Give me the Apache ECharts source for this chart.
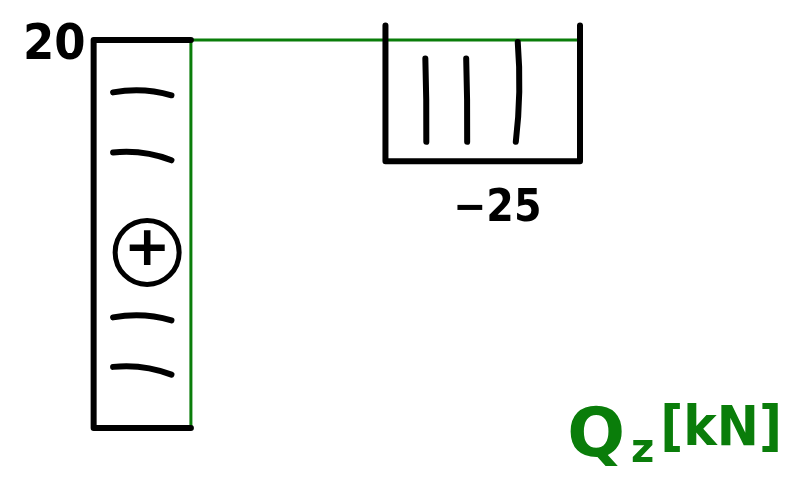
<!DOCTYPE html>
<html>
<head>
<meta charset="utf-8">
<script src="https://cdn.jsdelivr.net/npm/echarts@6/dist/echarts.min.js"></script>
<style>
  html, body { margin: 0; padding: 0; background: #fff; }
  #chart { width: 793px; height: 485px; }
</style>
</head>
<body>
<div id="chart"></div>
<script>
// frame axis (m): column 0..4, beam 0..4
const frameAxis = [[0, 0], [0, 4], [4, 4]];
// shear Q [kN] per member segment
const columnQ = 20;            // along the column, y 0..4
const beamSegment = [2, 4];    // loaded part of the beam
const beamQ = -25;
const kNtoM = 0.05;            // drawing scale of the ordinates

// hatch positions (m along the member)
const columnHatchY = [3.43, 2.81, 1.11, 0.60];
const beamHatchX = [2.41, 2.83, 3.36];
const signPos = [-0.45, 1.81];

const colOff = columnQ * kNtoM;
const beamOff = beamQ * kNtoM;
const over = 0.15; // pen overshoot above beam line

const columnOutline = [[0, 4], [-colOff, 4], [-colOff, 0], [0, 0]];
const beamOutline = [
    [beamSegment[0], 4 + over], [beamSegment[0], 4 + beamOff],
    [beamSegment[1], 4 + beamOff], [beamSegment[1], 4 + over]
];

const hatchLines = [];
columnHatchY.forEach((y, i) => {
    hatchLines.push({
        coords: [[-colOff * 0.8, y + 0.03], [-colOff * 0.2, y - (i % 2 ? 0.05 : 0.0)]],
        lineStyle: { curveness: 0.12 }
    });
});
beamHatchX.forEach((x, i) => {
    hatchLines.push({
        coords: [[x, 4 - (i === 2 ? 0.02 : 0.19)], [x + (i === 2 ? -0.02 : 0.01), 4 + beamOff + 0.2]],
        lineStyle: { curveness: i === 2 ? 0.05 : 0.01 }
    });
});

const green = '#0a7d0a';
const chart = echarts.init(document.getElementById('chart'));
chart.setOption({
    animation: false,
    backgroundColor: '#fff',
    title: {
        text: '{q|Q}{z|z}{u|[kN]}',
        right: 6,
        bottom: 8,
        textStyle: {
            rich: {
                q: { fontSize: 68, fontWeight: 'bold', color: green, fontFamily: 'DejaVu Sans', padding: [0, 6, 0, 0] },
                z: { fontSize: 40, fontWeight: 'bold', color: green, fontFamily: 'DejaVu Sans', padding: [0, 6, -28, 0] },
                u: { fontSize: 56, fontWeight: 'bold', color: green, fontFamily: 'DejaVu Sans Condensed', padding: [0, 0, 16, 0] }
            }
        }
    },
    grid: { left: 45, right: 213, top: 40, bottom: 57 },
    xAxis: { type: 'value', min: -1.5, max: 4, show: false },
    yAxis: { type: 'value', min: 0, max: 4, show: false },
    series: [
        {
            type: 'line', data: frameAxis, symbol: 'none', clip: false,
            lineStyle: { color: green, width: 3 }, z: 1
        },
        {
            type: 'line', data: columnOutline, symbol: 'none', clip: false,
            lineStyle: { color: '#000', width: 6, cap: 'round', join: 'round' }, z: 2
        },
        {
            type: 'line', data: beamOutline, symbol: 'none', clip: false,
            lineStyle: { color: '#000', width: 6, cap: 'round', join: 'round' }, z: 2
        },
        {
            type: 'lines', coordinateSystem: 'cartesian2d', data: hatchLines, clip: false,
            lineStyle: { color: '#000', width: 6, cap: 'round', opacity: 1 }, z: 2
        },
        {
            type: 'scatter', clip: false, z: 3,
            data: [signPos],
            symbol: 'circle', symbolSize: 64,
            itemStyle: { color: 'transparent', borderColor: '#000', borderWidth: 5, opacity: 1 },
            label: {
                show: true, position: 'inside', formatter: '+',
                fontSize: 56, fontWeight: 'bold', color: '#000', fontFamily: 'DejaVu Sans', offset: [0, -2]
            }
        },
        {
            type: 'scatter', clip: false, z: 3, symbolSize: 0,
            itemStyle: { opacity: 1 },
            data: [
                { value: [-colOff, 4], label: { formatter: String(columnQ), position: 'left', distance: 8, offset: [0, 6], fontSize: 50 } },
                { value: [(beamSegment[0] + beamSegment[1]) / 2 + 0.15, 4 + beamOff], label: { formatter: '\u2212' + Math.abs(beamQ), position: 'bottom', distance: 26, fontSize: 44 } }
            ],
            label: {
                show: true, fontSize: 42, fontWeight: 'bold', color: '#000',
                fontFamily: 'DejaVu Sans Condensed'
            }
        }
    ]
});
</script>
</body>
</html>
